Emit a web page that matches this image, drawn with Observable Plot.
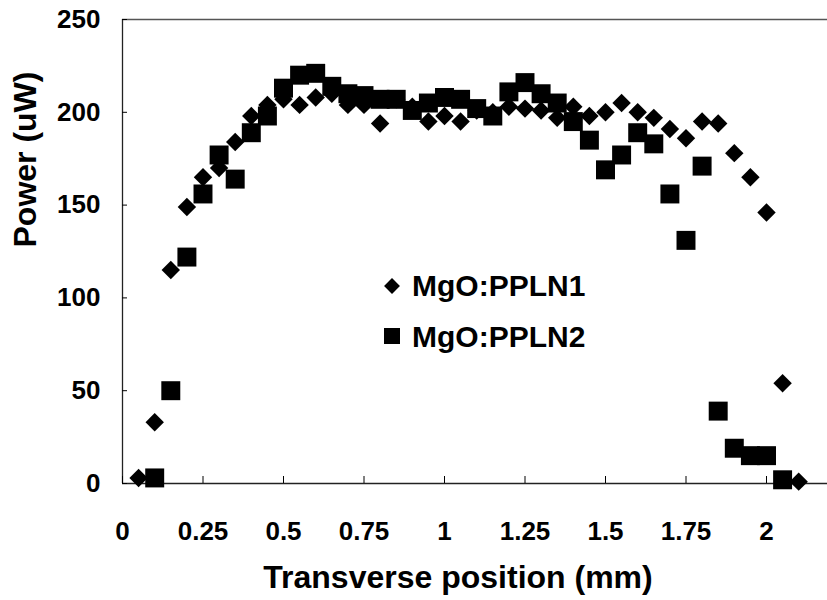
<!DOCTYPE html>
<html>
<head>
<meta charset="utf-8">
<script src="https://cdn.jsdelivr.net/npm/d3@7"></script>
<script src="https://cdn.jsdelivr.net/npm/@observablehq/plot@0.6"></script>
<style>
  body { margin: 0; background: #fff; }
  #wrap { position: relative; width: 827px; height: 600px; font-family: "Liberation Sans", Arial, sans-serif; font-weight: bold; }
</style>
</head>
<body>
<div id="wrap"><div id="chart"></div></div>
<script>
// ---- data ----
const seriesNames = ["MgO:PPLN1", "MgO:PPLN2"];

const positionN1 = [0.05, 0.1, 0.15, 0.2, 0.25, 0.3, 0.35, 0.4, 0.45, 0.5,
  0.55, 0.6, 0.65, 0.7, 0.75, 0.8, 0.85, 0.9, 0.95, 1.0,
  1.05, 1.1, 1.15, 1.2, 1.25, 1.3, 1.35, 1.4, 1.45, 1.5,
  1.55, 1.6, 1.65, 1.7, 1.75, 1.8, 1.85, 1.9, 1.95, 2.0,
  2.05, 2.1];
const powerN1 = [3, 33, 115, 149, 165, 170, 184, 198, 204, 207,
  204, 208, 210, 204, 204, 194, 207, 203, 195, 198,
  195, 201, 200, 203, 202, 201, 197, 203, 198, 200,
  205, 200, 197, 191, 186, 195, 194, 178, 165, 146,
  54, 1];

const positionN2 = [0.1, 0.15, 0.2, 0.25, 0.3, 0.35, 0.4, 0.45, 0.5,
  0.55, 0.6, 0.65, 0.7, 0.75, 0.8, 0.85, 0.9, 0.95, 1.0,
  1.05, 1.1, 1.15, 1.2, 1.25, 1.3, 1.35, 1.4, 1.45, 1.5,
  1.55, 1.6, 1.65, 1.7, 1.75, 1.8, 1.85, 1.9, 1.95, 2.0,
  2.05];
const powerN2 = [3, 50, 122, 156, 177, 164, 189, 198, 213,
  220, 221, 214, 210, 209, 207, 207, 201, 205, 208,
  207, 202, 198, 211, 216, 210, 205, 195, 185, 169,
  177, 189, 183, 156, 131, 171, 39, 19, 15, 15,
  2];

const xTicks = [0, 0.25, 0.5, 0.75, 1, 1.25, 1.5, 1.75, 2];
const xTickLabels = ["0", "0.25", "0.5", "0.75", "1", "1.25", "1.5", "1.75", "2"];
const yTicks = [0, 50, 100, 150, 200, 250];
const xTitle = "Transverse position (mm)";
const yTitle = "Power (uW)";

// ---- tables built from the arrays ----
const dataN1 = positionN1.map((x, i) => ({x, y: powerN1[i]}));
const dataN2 = positionN2.map((x, i) => ({x, y: powerN2[i]}));

const FONT = '"Liberation Sans", Arial, sans-serif';
const lineStyle = {stroke: "#222", strokeWidth: 1.3};

const chart = Plot.plot({
  width: 827,
  height: 600,
  marginLeft: 122,
  marginRight: 0,
  marginTop: 19,
  marginBottom: 117,
  style: {fontFamily: FONT, fontWeight: "bold", fontSize: "26px", color: "#000", background: "#fff", overflow: "visible"},
  x: {domain: [0, 705 / 322]},
  y: {domain: [0, 250]},
  marks: [
    Plot.ruleY([0], lineStyle),
    Plot.ruleY([250], {stroke: "#555", strokeWidth: 1.5}),
    Plot.ruleX([0], lineStyle),
    Plot.axisX(xTicks, {tickSize: -7, tickPadding: 45, tickFormat: d => xTickLabels[xTicks.indexOf(d)], label: null, fontSize: 26}),
    Plot.axisY(yTicks, {tickSize: -5, tickPadding: 27, label: null, fontSize: 26}),
    Plot.dot(dataN1, {x: "x", y: "y", symbol: "diamond2", r: 8.3, fill: "#000", stroke: "none"}),
    Plot.dot(dataN2, {x: "x", y: "y", symbol: "square", r: 10.7, fill: "#000", stroke: "none"}),
    Plot.text([xTitle], {frameAnchor: "bottom", dy: 104, dx: -17, fontSize: 32, fontWeight: "bold", fill: "#000"}),
    Plot.text([yTitle], {frameAnchor: "left", rotate: -90, dx: -97, dy: -4, fontSize: 32, fontWeight: "bold", fill: "#000"})
  ]
});
document.getElementById("chart").appendChild(chart);

// ---- legend overlay ----
const legendRows = [
  {name: seriesNames[0], symbol: d3.symbolDiamond2, size: 160, cy: 286, base: 296},
  {name: seriesNames[1], symbol: d3.symbolSquare, size: 256, cy: 336, base: 347}
];
const leg = d3.select("#wrap").append("svg")
  .attr("width", 827).attr("height", 600)
  .style("position", "absolute").style("left", "0px").style("top", "0px")
  .style("pointer-events", "none");
const g = leg.selectAll("g").data(legendRows).join("g");
g.append("path")
  .attr("d", d => d3.symbol(d.symbol, d.size)())
  .attr("transform", d => `translate(392,${d.cy})`)
  .attr("fill", "#000");
g.append("text")
  .attr("x", 412).attr("y", d => d.base)
  .attr("font-family", FONT).attr("font-weight", "bold").attr("font-size", 30)
  .attr("fill", "#000")
  .text(d => d.name);
</script>
</body>
</html>
